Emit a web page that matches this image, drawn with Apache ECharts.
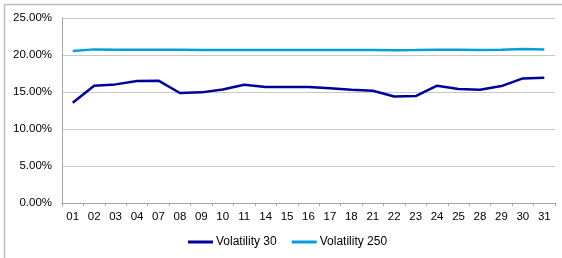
<!DOCTYPE html>
<html>
<head>
<meta charset="utf-8">
<script src="https://cdn.jsdelivr.net/npm/echarts@6/dist/echarts.min.js"></script>
<style>
  html, body { margin: 0; padding: 0; background: #fff; }
  #main { width: 562px; height: 258px; }
</style>
</head>
<body>
<div id="main"></div>
<script>
  // days of the month
  var days = ['01', '02', '03', '04', '07', '08', '09', '10', '11', '14', '15', '16',
              '17', '18', '21', '22', '23', '24', '25', '28', '29', '30', '31'];
  var vol30 = [13.55, 15.85, 16.03, 16.49, 16.53, 14.86, 14.95, 15.35, 15.99, 15.68, 15.68, 15.68,
               15.5, 15.3, 15.17, 14.4, 14.45, 15.85, 15.4, 15.3, 15.8, 16.84, 16.93];
  var vol250 = [20.54, 20.76, 20.7, 20.7, 20.7, 20.7, 20.66, 20.66, 20.68, 20.68, 20.68, 20.68,
                20.68, 20.68, 20.68, 20.64, 20.66, 20.7, 20.7, 20.68, 20.72, 20.82, 20.74];
  var yTicks = [0, 5, 10, 15, 20, 25];

  var myChart = echarts.init(document.getElementById('main'));
  var font = 'Liberation Sans, Arial, sans-serif';

  var option = {
    backgroundColor: '#ffffff',
    animation: false,
    graphic: [{
      type: 'rect',
      shape: { x: 4.5, y: 4.5, width: 600, height: 300 },
      style: { fill: 'none', stroke: '#bfbfbf', lineWidth: 1.5 },
      silent: true
    }],
    grid: { left: 62, right: 7, top: 18, bottom: 55 },
    legend: {
      bottom: 10,
      left: 188,
      padding: 0,
      itemWidth: 25,
      itemHeight: 3,
      itemGap: 15,
      icon: 'rect',
      textStyle: { fontFamily: font, fontSize: 12, color: '#000', padding: [0, 0, 0, -2] },
      data: ['Volatility 30', 'Volatility 250']
    },
    xAxis: {
      type: 'category',
      data: days,
      boundaryGap: true,
      axisLine: { lineStyle: { color: '#a6a6a6', width: 1 } },
      axisTick: { show: true, length: 3, inside: false, lineStyle: { color: '#a6a6a6' } },
      axisLabel: { fontFamily: font, fontSize: 11.5, color: '#000', margin: 8, interval: 0 }
    },
    yAxis: {
      type: 'value',
      min: yTicks[0],
      max: yTicks[yTicks.length - 1],
      interval: 5,
      axisLine: { show: true, lineStyle: { color: '#a6a6a6' } },
      axisTick: { show: false },
      splitLine: { lineStyle: { color: '#c8c8c8', width: 1 } },
      axisLabel: {
        fontFamily: font, fontSize: 11.5, color: '#000', margin: 10,
        formatter: function (v) { return v.toFixed(2) + '%'; }
      }
    },
    series: [
      {
        name: 'Volatility 30',
        type: 'line',
        data: vol30,
        symbol: 'none',
        color: '#000099',
        lineStyle: { width: 2.5, color: '#000099' }
      },
      {
        name: 'Volatility 250',
        type: 'line',
        data: vol250,
        symbol: 'none',
        color: '#00a0dc',
        lineStyle: { width: 2.5, color: '#00a0dc' }
      }
    ]
  };

  myChart.setOption(option);
</script>
</body>
</html>
